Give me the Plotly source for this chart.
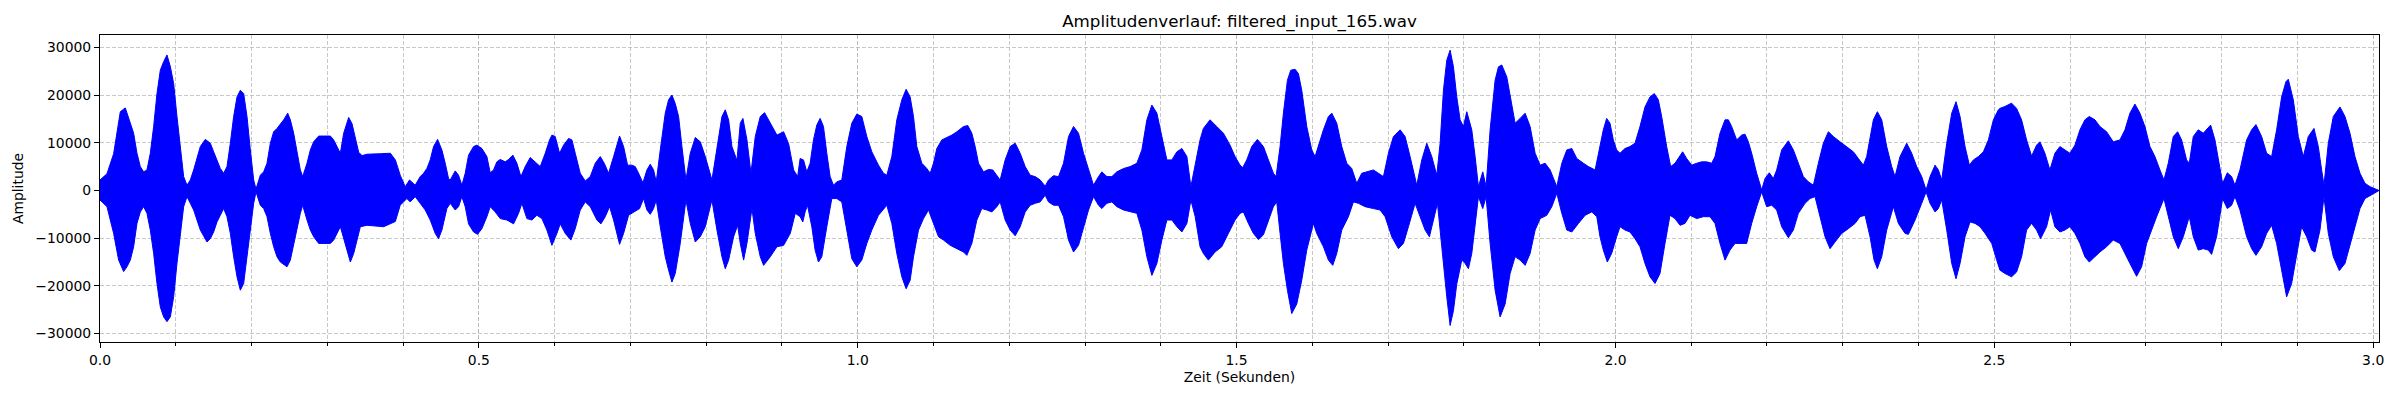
import plotly.graph_objects as go

TITLE = "Amplitudenverlauf: filtered_input_165.wav"
X_LABEL = "Zeit (Sekunden)"
Y_LABEL = "Amplitude"
DURATION = 3.0077

x_tick_vals = [0.0, 0.5, 1.0, 1.5, 2.0, 2.5, 3.0]
y_tick_vals = [-30000, -20000, -10000, 0, 10000, 20000, 30000]
y_tick_text = ["\u221230000", "\u221220000", "\u221210000", "0", "10000", "20000", "30000"]

# Envelope of the waveform: (time in s, amplitude)
upper_seg1 = [(0.000, 2200), (0.0092, 3500), (0.018, 7700), (0.0224, 12600), (0.0268, 16500), (0.0334, 17300),
              (0.040, 14000), (0.0444, 12000), (0.0488, 7800), (0.0532, 5000), (0.0576, 3900), (0.062, 4300),
              (0.0664, 7800), (0.0708, 13400), (0.0752, 20300), (0.0796, 25200), (0.084, 27000), (0.0884, 28400),
              (0.0928, 26000), (0.0972, 22400), (0.1016, 15500), (0.106, 8500), (0.1104, 2900), (0.1148, 1100),
              (0.1192, 2200), (0.1236, 4300), (0.128, 7000), (0.1324, 9200), (0.139, 10700), (0.1456, 9900),
              (0.150, 8100), (0.1544, 6400), (0.1588, 4600), (0.1632, 3600), (0.1676, 5000), (0.172, 9900),
              (0.1764, 15500), (0.1808, 19600), (0.1852, 21000), (0.1896, 20300), (0.194, 15500), (0.1984, 8500),
              (0.2028, 2200), (0.2059, 300), (0.2116, 3200), (0.216, 3900), (0.2204, 5700), (0.2248, 9900),
              (0.2292, 12300), (0.2336, 13000), (0.2424, 14800), (0.2477, 16200), (0.2512, 14800), (0.2556, 12000),
              (0.260, 7800), (0.2644, 4300), (0.2675, 2900), (0.2732, 5700), (0.2776, 8500), (0.282, 10200),
              (0.2886, 11400), (0.304, 11400), (0.3084, 10600), (0.3128, 9200), (0.3172, 7800), (0.3216, 12000),
              (0.3282, 15300), (0.3326, 14000), (0.337, 11000), (0.3414, 8000), (0.3458, 7300), (0.3524, 7600),
              (0.370, 7700), (0.3832, 7800), (0.3898, 6400)]
upper_seg2 = [(0.3962, 3200), (0.4028, 800), (0.4085, 2200), (0.416, 1100), (0.4226, 2900), (0.427, 3600),
              (0.4314, 4600), (0.4358, 6400), (0.4402, 9200), (0.4455, 10700), (0.4512, 8500), (0.4556, 5700),
              (0.460, 2500), (0.4622, 2200), (0.4688, 4100), (0.4732, 3200), (0.4776, 1100), (0.482, 3600),
              (0.4864, 7400), (0.493, 9200), (0.4974, 9500), (0.504, 8800), (0.5106, 7100), (0.515, 3700),
              (0.5194, 4300), (0.5238, 6000), (0.5282, 6500), (0.5348, 6000), (0.5392, 6500), (0.5449, 7400),
              (0.5502, 5700), (0.5555, 2900), (0.5612, 5000), (0.5678, 6900), (0.5744, 6000), (0.581, 5000),
              (0.5876, 7800), (0.5933, 10600), (0.5964, 11600), (0.6008, 11300), (0.6065, 7800), (0.6118, 9500),
              (0.6184, 10900), (0.6228, 10600), (0.6272, 7800), (0.6338, 3600), (0.6404, 2000), (0.647, 2900),
              (0.6536, 5700), (0.6602, 7100), (0.6655, 5700), (0.6712, 3600), (0.6778, 7100), (0.6857, 11400),
              (0.691, 9200), (0.6963, 5300), (0.702, 5300), (0.7064, 5000), (0.7108, 3600), (0.7165, 1600),
              (0.7218, 4300), (0.7262, 5500), (0.7306, 4300), (0.7341, 1800), (0.7394, 8500), (0.746, 16200),
              (0.7504, 19000), (0.7548, 20000), (0.7592, 18200), (0.7636, 15500), (0.768, 9200), (0.7733, 2200),
              (0.779, 7800), (0.7856, 11100), (0.7922, 10200), (0.7988, 7100), (0.8076, 2200), (0.8142, 9200),
              (0.8208, 15500), (0.8252, 16900), (0.8296, 14800), (0.834, 9200), (0.8406, 6300), (0.845, 14100),
              (0.8485, 15100), (0.8538, 10600), (0.8591, 3600), (0.8648, 11300), (0.8714, 15500), (0.8771, 16300),
              (0.8846, 14100), (0.8934, 11600), (0.9022, 12300), (0.9088, 9800), (0.9154, 4300), (0.9207, 2900)]
upper_seg3 = [(0.924, 6700), (0.9284, 6400), (0.9328, 3900), (0.9372, 5700), (0.9416, 10600), (0.946, 13700),
              (0.9504, 15100), (0.9548, 13400), (0.9592, 7800), (0.9636, 2900), (0.968, 1100), (0.9724, 1800),
              (0.979, 2200), (0.9856, 9200), (0.9922, 14100), (0.9988, 16000), (1.0054, 15500), (1.012, 11300),
              (1.0186, 8100), (1.0274, 5300), (1.034, 3600), (1.0384, 3200), (1.045, 7100), (1.0516, 14800),
              (1.0582, 19000), (1.0639, 21200), (1.0692, 19600), (1.0736, 15500), (1.078, 9200), (1.0846, 5700),
              (1.0912, 4600), (1.0956, 3600), (1.100, 5700), (1.1044, 8800), (1.111, 10600), (1.1176, 11100),
              (1.1242, 11600), (1.1308, 12300), (1.1396, 13400), (1.1453, 13600), (1.1506, 12000), (1.155, 9200),
              (1.1594, 5700), (1.166, 3900), (1.1726, 4400), (1.1783, 4300), (1.1836, 3200), (1.188, 2200),
              (1.1946, 6400), (1.2012, 9200), (1.2078, 9900), (1.2144, 7800), (1.221, 5000), (1.2276, 3200),
              (1.2342, 2900), (1.2408, 2200), (1.2474, 900), (1.2518, 2200), (1.2584, 3100), (1.265, 2900),
              (1.2716, 5700), (1.2782, 11300), (1.2848, 13400), (1.2914, 12000), (1.298, 7800), (1.3046, 4300),
              (1.3112, 1100), (1.3178, 2900), (1.3222, 3900), (1.3288, 2900), (1.3354, 2900), (1.342, 3900),
              (1.3508, 4600), (1.3596, 5000), (1.3684, 5700), (1.375, 8500), (1.3816, 14800), (1.3882, 17900),
              (1.3948, 16200), (1.4014, 11300), (1.408, 6400), (1.4146, 6400), (1.4212, 8100), (1.4278, 8800),
              (1.4344, 7100), (1.4397, 800), (1.4454, 5700)]
upper_seg4 = [(1.4518, 10600), (1.4562, 13000), (1.465, 14800), (1.4738, 13400), (1.4826, 12000), (1.4914, 9500),
              (1.498, 7100), (1.5046, 5300), (1.5081, 4800), (1.5134, 6400), (1.520, 9200), (1.5275, 10700),
              (1.5354, 9200), (1.542, 6400), (1.5486, 3600), (1.5521, 2900), (1.5574, 9200), (1.5618, 16200),
              (1.5671, 23100), (1.5715, 25200), (1.5772, 25400), (1.5816, 24500), (1.586, 21000), (1.5926, 13400),
              (1.5992, 8500), (1.6036, 7100), (1.608, 9500), (1.6146, 12700), (1.6212, 15500), (1.6256, 16200),
              (1.6322, 14100), (1.6388, 9200), (1.6454, 5700), (1.652, 4600), (1.6586, 1500), (1.6652, 3600),
              (1.6718, 3900), (1.6806, 4300), (1.6872, 3600), (1.6938, 2900), (1.7004, 7800), (1.707, 11300),
              (1.7158, 12700), (1.7224, 11300), (1.729, 7100), (1.7378, 1100), (1.7444, 6400), (1.751, 9900),
              (1.7576, 7100), (1.7642, 3200), (1.7686, 9900), (1.773, 21000), (1.7774, 27300), (1.7818, 29400),
              (1.7862, 25900), (1.7906, 19600), (1.795, 14800), (1.7994, 13400), (1.8038, 16500), (1.8104, 12700),
              (1.8148, 7100), (1.8192, 800), (1.8249, 3900), (1.8293, 800), (1.8346, 12700), (1.8412, 23100),
              (1.8456, 25900), (1.850, 26300), (1.8566, 23800), (1.8632, 17500), (1.8676, 14100), (1.8742, 15100),
              (1.8808, 16200), (1.8874, 13400), (1.894, 7800), (1.9006, 5300), (1.9072, 5700), (1.9138, 4300),
              (1.9226, 800), (1.9292, 5700), (1.9358, 8500), (1.9424, 8800), (1.949, 6700), (1.9578, 5700),
              (1.9644, 5000), (1.9732, 4300)]
upper_seg5 = [(1.9796, 9200), (1.984, 12700), (1.9884, 15100), (1.9928, 14100), (1.9972, 10600), (2.0016, 8500),
              (2.006, 7800), (2.0126, 8800), (2.0192, 9200), (2.0258, 9900), (2.0324, 13400), (2.039, 17500),
              (2.0456, 19600), (2.0513, 20300), (2.0566, 19000), (2.061, 15500), (2.0676, 9200), (2.0729, 5000),
              (2.0786, 5700), (2.083, 6700), (2.0887, 8100), (2.094, 6700), (2.1006, 5300), (2.1072, 5700),
              (2.1138, 6000), (2.1204, 6000), (2.127, 5700), (2.1314, 7100), (2.138, 12000), (2.1446, 14800),
              (2.149, 14800), (2.1534, 13400), (2.160, 10600), (2.1666, 11600), (2.171, 11800), (2.1754, 10200),
              (2.1798, 7800), (2.1864, 3600), (2.193, 100), (2.1974, 2500), (2.2031, 3700), (2.2084, 2500),
              (2.2128, 4300), (2.2194, 8500), (2.2282, 10400), (2.2348, 8500), (2.2414, 5700), (2.248, 2900),
              (2.2546, 1800), (2.2612, 1100), (2.2678, 5700), (2.2744, 9900), (2.281, 12300), (2.2876, 11300),
              (2.2964, 10200), (2.3052, 9200), (2.314, 8100), (2.3206, 6700), (2.3272, 5300), (2.3316, 7100),
              (2.336, 10600), (2.3404, 14800), (2.3457, 16500), (2.3514, 14800), (2.358, 9200), (2.3646, 5000),
              (2.369, 2900), (2.3756, 7100), (2.3844, 9900), (2.391, 7800), (2.3976, 5000), (2.4042, 2900),
              (2.410, 100), (2.4152, 2900), (2.4218, 5300), (2.4262, 4300), (2.4306, 2200), (2.4372, 9900),
              (2.4438, 16200), (2.4495, 18600), (2.4548, 15500), (2.4614, 9200), (2.4671, 5300), (2.4724, 6400),
              (2.479, 7100), (2.4856, 8100), (2.4922, 10600), (2.4988, 14800), (2.5054, 16900)]
upper_seg6 = [(2.5074, 17200), (2.514, 17600), (2.5228, 18300), (2.5294, 17200), (2.536, 14800), (2.5426, 10600),
              (2.5492, 7200), (2.5558, 9500), (2.5602, 10200), (2.5668, 7800), (2.5734, 4300), (2.580, 7800),
              (2.5866, 9200), (2.5932, 8500), (2.5998, 7800), (2.6064, 9500), (2.613, 12700), (2.6196, 14800),
              (2.6253, 15500), (2.6328, 14800), (2.6394, 13400), (2.6482, 12300), (2.657, 10200), (2.6658, 10600),
              (2.6724, 12700), (2.679, 16200), (2.6856, 18100), (2.6922, 16200), (2.6988, 13400), (2.7054, 9200),
              (2.712, 7100), (2.7186, 4300), (2.7239, 2200), (2.7296, 5700), (2.7362, 11300), (2.7419, 12300),
              (2.7472, 10600), (2.7538, 6400), (2.7573, 5700), (2.7626, 11300), (2.7692, 12700), (2.7758, 12000),
              (2.7802, 12700), (2.7855, 13700), (2.7912, 10600), (2.7956, 6400), (2.8013, 1500), (2.8075, 3700),
              (2.8132, 2900), (2.8176, 1100), (2.8242, 4300), (2.833, 10600), (2.8396, 12700), (2.8453, 13800),
              (2.8528, 11300), (2.8594, 7800), (2.866, 7100), (2.8726, 12700), (2.8792, 19600), (2.8849, 22800),
              (2.888, 23300), (2.8946, 19000), (2.9012, 11300), (2.9078, 7100), (2.9144, 11300), (2.9219, 13000),
              (2.9276, 9200), (2.932, 4300), (2.9351, 1100), (2.9408, 9900), (2.9474, 15500), (2.9562, 17500),
              (2.9628, 15500), (2.9694, 12000), (2.976, 7100), (2.9826, 3600), (2.9892, 1500), (2.9958, 800),
              (3.0046, 200), (3.0077, 0)]

lower_seg1 = [(0.000, -2000), (0.0092, -3400), (0.018, -9000), (0.0246, -14600), (0.0312, -17000), (0.0356, -16000),
              (0.040, -14600), (0.0444, -11800), (0.0488, -6900), (0.0532, -4500), (0.0576, -3400), (0.062, -4800),
              (0.0664, -8300), (0.0708, -13200), (0.0752, -19500), (0.0796, -24400), (0.084, -26500), (0.0884, -27500),
              (0.0928, -26500), (0.0972, -22300), (0.1016, -15300), (0.106, -9000), (0.1104, -3400), (0.1148, -1300),
              (0.1192, -2700), (0.1236, -4100), (0.128, -6200), (0.1324, -8300), (0.1412, -10800), (0.1456, -10100),
              (0.150, -8700), (0.1544, -6600), (0.1588, -5200), (0.1632, -3800), (0.1676, -5500), (0.172, -9000),
              (0.1764, -13900), (0.1808, -18100), (0.1852, -20900), (0.1896, -19500), (0.194, -14600), (0.1984, -8300),
              (0.2028, -2700), (0.2059, -300), (0.2116, -3100), (0.216, -3800), (0.2204, -5500), (0.2248, -9000),
              (0.2292, -11800), (0.2336, -13900), (0.238, -15000), (0.2468, -16000), (0.2512, -14600), (0.2556, -11800),
              (0.260, -8300), (0.2644, -4800), (0.2675, -3100), (0.2732, -6200), (0.2776, -8300), (0.282, -9700),
              (0.2886, -11100), (0.304, -11100), (0.3084, -10400), (0.3128, -9000), (0.3172, -7600), (0.3216, -10400),
              (0.3304, -15000), (0.3348, -13200), (0.3392, -10400), (0.3436, -7600), (0.3524, -7300), (0.3744, -7600),
              (0.3898, -6500)]
lower_seg2 = [(0.3962, -3100), (0.405, -1700), (0.4094, -2400), (0.416, -1300), (0.4226, -2700), (0.4292, -4100),
              (0.4358, -6200), (0.4424, -9000), (0.4468, -10100), (0.4512, -8300), (0.4578, -3800), (0.4622, -2700),
              (0.4688, -4100), (0.4732, -3400), (0.4776, -1300), (0.482, -3400), (0.4864, -7000), (0.493, -8700),
              (0.4983, -9200), (0.504, -8000), (0.5106, -5500), (0.515, -3400), (0.5216, -4500), (0.5282, -5900),
              (0.537, -6200), (0.5458, -7000), (0.5524, -4800), (0.5568, -2700), (0.5634, -5900), (0.570, -6200),
              (0.5766, -5200), (0.5832, -5900), (0.5898, -8300), (0.5964, -11500), (0.603, -9000), (0.6074, -7000),
              (0.614, -9000), (0.6215, -10400), (0.6272, -8000), (0.6338, -4100), (0.6404, -2400), (0.647, -3400),
              (0.6558, -6200), (0.6611, -7000), (0.6668, -5500), (0.6725, -3400), (0.6778, -6200), (0.6857, -11300),
              (0.691, -9000), (0.6976, -5200), (0.7042, -4500), (0.7121, -3800), (0.7174, -1700), (0.7218, -4100),
              (0.7262, -5000), (0.7306, -3800), (0.7341, -2000), (0.7394, -7600), (0.746, -13900), (0.7504, -16700),
              (0.7548, -19200), (0.7592, -17400), (0.7658, -11100), (0.7733, -2000), (0.779, -6900), (0.7856, -10800),
              (0.7922, -9700), (0.7988, -7600), (0.8076, -2000), (0.8142, -8300), (0.8208, -13900), (0.8252, -16400),
              (0.8296, -14600), (0.8362, -9700), (0.8415, -7300), (0.845, -11100), (0.8494, -14600), (0.8538, -11100),
              (0.8604, -3800), (0.8648, -9000), (0.8714, -13900), (0.8758, -15700), (0.8846, -13900), (0.8934, -11800),
              (0.9022, -11500), (0.911, -9000), (0.9176, -4800)]
lower_seg3 = [(0.924, -5500), (0.9275, -6600), (0.9306, -4500), (0.9337, -3100), (0.9394, -7600), (0.9438, -12500),
              (0.9482, -15000), (0.9526, -13900), (0.9592, -7600), (0.9658, -1700), (0.9724, -1700), (0.979, -2400),
              (0.9856, -8300), (0.9922, -14300), (0.9988, -16000), (1.0054, -14600), (1.012, -11100), (1.0186, -8300),
              (1.0274, -5200), (1.0384, -3100), (1.045, -6900), (1.0516, -13200), (1.0582, -18100), (1.0639, -20600),
              (1.0692, -18800), (1.0736, -13900), (1.0802, -8300), (1.0868, -5900), (1.0934, -4100), (1.100, -6900),
              (1.1066, -9700), (1.1132, -10400), (1.122, -11500), (1.1308, -12200), (1.1396, -12900), (1.144, -13600),
              (1.1506, -11100), (1.1572, -6200), (1.1638, -3800), (1.1704, -4100), (1.177, -4500), (1.1836, -3400),
              (1.188, -2400), (1.1946, -6200), (1.2012, -8300), (1.2078, -9500), (1.2144, -7600), (1.221, -4500),
              (1.2276, -3100), (1.2342, -2700), (1.2408, -2400), (1.2474, -1000), (1.2518, -2400), (1.2584, -3100),
              (1.265, -3100), (1.2716, -5500), (1.2782, -10400), (1.2848, -12900), (1.2914, -11500), (1.298, -7600),
              (1.3046, -4100), (1.3112, -1300), (1.3178, -3100), (1.3222, -3800), (1.3288, -2700), (1.3354, -2400),
              (1.342, -3400), (1.3508, -4100), (1.3596, -4500), (1.3684, -4800), (1.375, -8300), (1.3816, -13900),
              (1.3882, -17800), (1.3948, -15300), (1.4014, -10400), (1.408, -6200), (1.4146, -6200), (1.4212, -7600),
              (1.4278, -8700), (1.4344, -6900), (1.4397, -2000), (1.4454, -5500)]
lower_seg4 = [(1.4518, -11800), (1.4562, -13200), (1.4628, -14600), (1.4716, -12900), (1.4804, -11800), (1.4892, -9000),
              (1.498, -6200), (1.5046, -4800), (1.509, -4500), (1.5156, -6900), (1.5222, -9000), (1.5288, -10300),
              (1.5354, -9300), (1.542, -6200), (1.5486, -3400), (1.553, -2400), (1.5574, -9000), (1.5618, -15300),
              (1.5671, -20900), (1.5728, -25800), (1.5794, -23800), (1.586, -18800), (1.5926, -12500), (1.6014, -6900),
              (1.6058, -9000), (1.6146, -11800), (1.6212, -14600), (1.6269, -15700), (1.6322, -13200), (1.6388, -8300),
              (1.6476, -5500), (1.6542, -2400), (1.6608, -2700), (1.6696, -3400), (1.6806, -3800), (1.6894, -4100),
              (1.696, -5500), (1.7048, -9700), (1.7136, -12200), (1.7202, -11100), (1.7268, -7600), (1.7356, -2700),
              (1.7422, -5500), (1.7488, -8300), (1.7545, -9700), (1.7598, -6200), (1.7651, -2700), (1.7708, -11100),
              (1.7774, -22300), (1.7818, -28300), (1.7862, -25200), (1.7906, -19600), (1.7972, -14600), (1.8016, -15300),
              (1.806, -16400), (1.8104, -13200), (1.8148, -7600), (1.8192, -1300), (1.8249, -3800), (1.8293, -1300),
              (1.8346, -11100), (1.8412, -20900), (1.8478, -26500), (1.8544, -23800), (1.861, -17400), (1.8676, -13900),
              (1.8742, -14600), (1.8808, -15700), (1.8874, -13200), (1.894, -8300), (1.9006, -5900), (1.9094, -5200),
              (1.916, -3400), (1.9226, -600), (1.9292, -4800), (1.9358, -8300), (1.9424, -8700), (1.9512, -6900),
              (1.960, -5200), (1.9688, -4500), (1.9754, -5500)]
lower_seg5 = [(1.9796, -9700), (1.984, -12500), (1.9893, -15000), (1.995, -13200), (2.0016, -9700), (2.006, -7600),
              (2.0126, -8300), (2.0192, -8700), (2.0258, -10100), (2.0324, -11800), (2.039, -15300), (2.0456, -18100),
              (2.0522, -19500), (2.0588, -17400), (2.0654, -11100), (2.072, -5200), (2.0786, -5900), (2.0852, -7300),
              (2.0918, -6900), (2.0984, -5200), (2.1072, -5900), (2.116, -5500), (2.1248, -5500), (2.1314, -6900),
              (2.138, -11100), (2.1446, -14600), (2.1512, -12500), (2.1578, -11100), (2.1644, -11100), (2.1732, -11100),
              (2.1798, -6900), (2.1864, -3400), (2.193, -300), (2.1996, -3400), (2.2062, -3100), (2.2128, -4100),
              (2.2194, -7600), (2.2282, -9900), (2.2348, -8300), (2.2414, -4800), (2.2502, -2700), (2.2568, -1700),
              (2.2634, -1300), (2.270, -5500), (2.2766, -9700), (2.2832, -12200), (2.2898, -10800), (2.2986, -9000),
              (2.3074, -8000), (2.3162, -6900), (2.3228, -5500), (2.3294, -5200), (2.336, -9700), (2.3413, -14600),
              (2.3457, -16400), (2.3514, -13900), (2.358, -8300), (2.3668, -3400), (2.3734, -6900), (2.3822, -9000),
              (2.3866, -9200), (2.3954, -6200), (2.4042, -2700), (2.410, -300), (2.4152, -2700), (2.4218, -4500),
              (2.4262, -3800), (2.4306, -2000), (2.4372, -8300), (2.4438, -15300), (2.4495, -18500), (2.4548, -15300),
              (2.4614, -9700), (2.468, -6600), (2.4746, -6900), (2.4812, -7600), (2.4878, -9000), (2.4966, -11100),
              (2.5032, -14600)]
lower_seg6 = [(2.5074, -16700), (2.514, -17400), (2.5228, -18100), (2.5294, -17100), (2.536, -13900), (2.5426, -8300),
              (2.5492, -6900), (2.5558, -8300), (2.5611, -10100), (2.569, -7600), (2.5743, -4100), (2.580, -7600),
              (2.5866, -8700), (2.5932, -8300), (2.5998, -7600), (2.6064, -9000), (2.613, -11100), (2.6196, -13900),
              (2.6253, -15000), (2.6328, -13900), (2.6394, -12900), (2.6482, -11800), (2.657, -10400), (2.6658, -11100),
              (2.6724, -13200), (2.679, -15300), (2.6878, -18000), (2.6944, -16000), (2.701, -11100), (2.7076, -8300),
              (2.7142, -5500), (2.7239, -1700), (2.7296, -5500), (2.7362, -9700), (2.7428, -12200), (2.7494, -9700),
              (2.7573, -5500), (2.7626, -9700), (2.7692, -12500), (2.7758, -12200), (2.7824, -12500), (2.7868, -13400),
              (2.7934, -9700), (2.8013, -1700), (2.8075, -3800), (2.8132, -3100), (2.8176, -1300), (2.8242, -4100),
              (2.833, -9700), (2.8396, -12200), (2.8453, -13600), (2.8528, -11800), (2.8594, -9000), (2.866, -7300),
              (2.8726, -11100), (2.8792, -16700), (2.8858, -22300), (2.8924, -19500), (2.899, -13900), (2.9056, -7600),
              (2.9122, -9700), (2.9188, -12500), (2.9232, -12900), (2.9298, -8300), (2.9351, -1300), (2.9408, -9000),
              (2.9474, -13900), (2.9553, -16800), (2.9628, -15300), (2.9694, -11800), (2.976, -7600), (2.9826, -3800),
              (2.9892, -1700), (2.9958, -1000), (3.0046, -300), (3.0077, 0)]

upper = upper_seg1 + upper_seg2 + upper_seg3 + upper_seg4 + upper_seg5 + upper_seg6
lower = lower_seg1 + lower_seg2 + lower_seg3 + lower_seg4 + lower_seg5 + lower_seg6

poly_x = [p[0] for p in upper] + [p[0] for p in reversed(lower)]
poly_y = [p[1] for p in upper] + [p[1] for p in reversed(lower)]

BLUE = "#0000ff"
GRID = "rgba(176,176,176,0.7)"
FONT = "DejaVu Sans"

fig = go.Figure()
fig.add_trace(go.Scatter(
    x=poly_x, y=poly_y, mode="lines", fill="toself", fillcolor=BLUE,
    line=dict(color=BLUE, width=1), hoverinfo="skip", showlegend=False,
))

fig.update_layout(
    width=2400, height=400,
    margin=dict(l=100, r=21, t=35, b=58),
    paper_bgcolor="white", plot_bgcolor="white",
    font=dict(family=FONT, size=14, color="black"),
    title=dict(text=TITLE, x=0.5, xref="paper", xanchor="center",
               y=1 - 21 / 400, yref="container", yanchor="middle",
               font=dict(family=FONT, size=16.7, color="black")),
    showlegend=False,
    hovermode=False,
)

fig.update_xaxes(
    range=[0, DURATION], tickvals=x_tick_vals, ticktext=[f"{v:.1f}" for v in x_tick_vals],
    ticks="outside", ticklen=5, tickwidth=1.1, tickcolor="black",
    showline=True, linecolor="black", linewidth=1.1, mirror=True,
    showgrid=True, gridcolor=GRID, gridwidth=1.1, griddash="4px,2px",
    zeroline=False,
    minor=dict(dtick=0.1, tick0=0, ticks="outside", ticklen=3, tickwidth=0.9, tickcolor="black",
               showgrid=True, gridcolor=GRID, gridwidth=1.1, griddash="4px,2px"),
    title=dict(text=X_LABEL, standoff=5, font=dict(family=FONT, size=13.9)),
    tickfont=dict(family=FONT, size=13.9),
)
fig.update_yaxes(
    range=[-31760, 32580], tickvals=y_tick_vals, ticktext=y_tick_text,
    ticks="outside", ticklen=5, tickwidth=1.1, tickcolor="black",
    showline=True, linecolor="black", linewidth=1.1, mirror=True,
    showgrid=True, gridcolor=GRID, gridwidth=1.1, griddash="4px,2px",
    zeroline=False,
    title=dict(text=Y_LABEL, standoff=8, font=dict(family=FONT, size=13.9)),
    tickfont=dict(family=FONT, size=13.9),
)

fig.write_html(
    "out.html",
    config={"displayModeBar": False},
    post_script="document.body.style.margin='0';document.body.style.overflow='hidden';",
)
